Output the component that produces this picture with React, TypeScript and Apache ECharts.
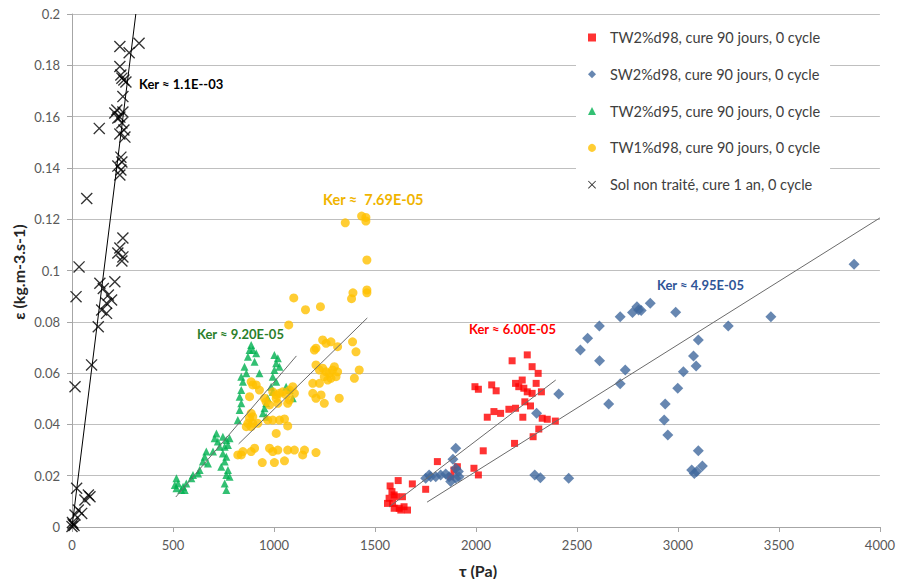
import React, { useEffect, useRef } from "react";
import * as echarts from "echarts";

// ---------- data ----------
const seriesNames = [
  "TW2%d98, cure 90 jours, 0 cycle",
  "SW2%d98, cure 90 jours, 0 cycle",
  "TW2%d95, cure 90 jours, 0 cycle",
  "TW1%d98, cure 90 jours, 0 cycle",
  "Sol non traité, cure 1 an, 0 cycle",
];

const tw2d98: [number, number][] = [
  [2254, 0.0671], [2179, 0.0648], [2278, 0.0625], [2308, 0.0599], [2229, 0.0573], [2196, 0.056],
  [2298, 0.056], [1995, 0.0547], [2012, 0.0537], [2078, 0.0554], [2100, 0.0531], [2212, 0.0547],
  [2237, 0.0541], [2254, 0.0527], [2278, 0.0521], [2324, 0.0527], [2242, 0.0488], [2270, 0.0472],
  [2163, 0.0459], [2196, 0.0463], [2089, 0.045], [2122, 0.0443], [2056, 0.0428], [2232, 0.0428],
  [2328, 0.0424], [2353, 0.042], [2393, 0.0413], [2311, 0.0382], [2283, 0.0352], [2191, 0.0326],
  [2036, 0.0297], [1809, 0.0255], [1990, 0.0229], [2012, 0.0203], [1891, 0.0222], [1875, 0.0196],
  [1908, 0.0235], [1751, 0.0147], [1685, 0.0168], [1615, 0.0181], [1575, 0.016], [1584, 0.0138],
  [1595, 0.0125], [1570, 0.0112], [1603, 0.0118], [1636, 0.0118], [1587, 0.0092], [1562, 0.0092],
  [1595, 0.0073], [1620, 0.0073], [1644, 0.0079], [1661, 0.0066], [1628, 0.0066],
];

const sw2d98: [number, number][] = [
  [2863, 0.0872], [2797, 0.0859], [2805, 0.0846], [2775, 0.0836], [2818, 0.0844], [2714, 0.082],
  [2989, 0.0837], [3460, 0.082], [3249, 0.0784], [2611, 0.0784], [2553, 0.0736], [2517, 0.069],
  [3101, 0.0729], [2612, 0.0648], [3077, 0.0667], [3090, 0.0628], [3027, 0.0605], [2739, 0.0612],
  [2714, 0.0558], [2999, 0.0541], [2657, 0.048], [2937, 0.048], [2932, 0.0417], [2950, 0.0359],
  [3101, 0.0297], [3068, 0.0222], [3093, 0.0216], [3121, 0.0238], [3081, 0.0209], [2459, 0.019],
  [2410, 0.0519], [3872, 0.1024], [2300, 0.0443], [2291, 0.0203], [2319, 0.0192], [1900, 0.0307],
  [1886, 0.0264], [1768, 0.0203], [1751, 0.019], [1776, 0.0196], [1801, 0.0196], [1825, 0.0203],
  [1850, 0.0207], [1867, 0.0196], [1875, 0.0177], [1900, 0.019], [1916, 0.0196], [1913, 0.0216],
  [1900, 0.0229],
];

const tw2d95: [number, number][] = [
  [887, 0.071], [879, 0.069], [895, 0.069], [871, 0.0664], [912, 0.0677], [904, 0.0644],
  [854, 0.0625], [863, 0.0599], [838, 0.0586], [846, 0.0566], [838, 0.0534], [830, 0.0508],
  [838, 0.0482], [830, 0.0456], [821, 0.0417], [928, 0.0599], [1002, 0.0671], [1019, 0.0658],
  [1011, 0.0638], [1027, 0.0625], [1002, 0.0612], [994, 0.0586], [1011, 0.0566], [986, 0.0547],
  [994, 0.0527], [969, 0.0502], [961, 0.0482], [953, 0.0463], [945, 0.0443], [961, 0.043],
  [1093, 0.0502], [1077, 0.0534], [1060, 0.0547], [780, 0.0346], [772, 0.032], [715, 0.0365],
  [706, 0.0346], [722, 0.0333], [747, 0.0352], [764, 0.0339], [756, 0.0313], [747, 0.0287],
  [764, 0.0274], [756, 0.0255], [739, 0.0235], [772, 0.0222], [764, 0.0203], [780, 0.0196],
  [756, 0.017], [764, 0.0144], [665, 0.0294], [657, 0.0274], [648, 0.0255], [673, 0.0248],
  [632, 0.0222], [624, 0.0209], [599, 0.0203], [591, 0.019], [566, 0.017], [550, 0.0157],
  [558, 0.0144], [525, 0.017], [517, 0.019], [509, 0.0164], [517, 0.0151], [541, 0.0144],
  [698, 0.0294], [731, 0.0313],
];

const tw1d98: [number, number][] = [
  [1353, 0.1186], [1434, 0.1212], [1455, 0.1207], [1455, 0.1193], [1460, 0.1041], [1460, 0.0924],
  [1460, 0.0913], [1391, 0.0913], [1384, 0.089], [1098, 0.0893], [1156, 0.0847], [1230, 0.0859],
  [1073, 0.0788], [1208, 0.0697], [1200, 0.069], [1241, 0.0729], [1258, 0.0716], [1282, 0.0722],
  [1315, 0.0703], [1389, 0.0722], [1406, 0.0683], [1208, 0.0632], [1225, 0.0612], [1241, 0.0619],
  [1258, 0.0605], [1274, 0.0599], [1290, 0.0612], [1299, 0.0625], [1307, 0.0586], [1282, 0.058],
  [1266, 0.0573], [1225, 0.056], [1192, 0.056], [1249, 0.0586], [1315, 0.0605], [1398, 0.058],
  [1422, 0.0612], [1192, 0.0521], [1233, 0.0515], [1208, 0.0502], [1249, 0.0482], [1323, 0.0502],
  [887, 0.0566], [912, 0.0554], [928, 0.0534], [895, 0.0554], [879, 0.0508], [994, 0.0527],
  [1011, 0.0515], [1027, 0.0521], [1043, 0.0527], [1060, 0.0515], [1077, 0.0534], [1093, 0.0547],
  [1101, 0.0521], [1077, 0.0495], [1068, 0.0482], [1011, 0.0502], [1019, 0.0482], [961, 0.0488],
  [978, 0.0476], [953, 0.0502], [887, 0.0443], [895, 0.043], [879, 0.0424], [871, 0.0404],
  [895, 0.0404], [920, 0.0404], [863, 0.0391], [887, 0.0391], [969, 0.0417], [994, 0.0417],
  [1027, 0.0417], [1052, 0.0421], [1068, 0.0394], [1011, 0.0365], [821, 0.0281], [846, 0.0294],
  [887, 0.0294], [904, 0.0307], [978, 0.0307], [994, 0.0294], [1019, 0.03], [1068, 0.03],
  [1101, 0.03], [1151, 0.03], [1142, 0.0281], [1208, 0.029], [838, 0.0281], [942, 0.0251],
  [1002, 0.0251], [1052, 0.0258],
];

const solNonTraite: [number, number][] = [
  [237, 0.1873], [332, 0.1886], [283, 0.1849], [237, 0.1795], [242, 0.1762], [257, 0.1743],
  [247, 0.175], [267, 0.1735], [252, 0.1678], [222, 0.1626], [212, 0.1614], [237, 0.1598],
  [252, 0.1618], [227, 0.1595], [247, 0.1575], [257, 0.1548], [237, 0.1532], [262, 0.152],
  [135, 0.1554], [242, 0.1442], [247, 0.1423], [227, 0.1407], [242, 0.1392], [237, 0.1372],
  [73, 0.1281], [252, 0.1127], [237, 0.1088], [227, 0.1068], [252, 0.1053], [247, 0.1037],
  [35, 0.1014], [20, 0.0898], [138, 0.095], [212, 0.0956], [155, 0.093], [180, 0.0904],
  [196, 0.0885], [171, 0.0872], [147, 0.0846], [171, 0.0833], [130, 0.0781], [97, 0.0632],
  [15, 0.0547], [23, 0.0151], [81, 0.0125], [64, 0.0105], [89, 0.0118], [31, 0.0066],
  [48, 0.0053], [15, 0.0047], [0, 0.0002], [5, 0.0012], [10, 0.0006], [2, 0.0018],
];

// trend lines (start, end)
const trendRed: [number, number][] = [[1570, 0.0078], [2395, 0.0573]];
const trendBlue: [number, number][] = [[1758, 0.0097], [4000, 0.1205]];
const trendGreen: [number, number][] = [[514, 0.0117], [1111, 0.0667]];
const trendYellow: [number, number][] = [[825, 0.0324], [1462, 0.0815]];
const trendBlack: [number, number][] = [[0, 0], [316, 0.2]];

const kerLabels = [
  "Ker ≈ 6.00E-05",
  "Ker ≈ 4.95E-05",
  "Ker ≈ 9.20E-05",
  "Ker ≈  7.69E-05",
  "Ker ≈ 1.1E--03",
];

const colors = ["#FF0000", "#41699E", "#00B050", "#FFC000", "#000000"];
const labelColors = ["#FF0000", "#2F5597", "#2B7F2B", "#F0B400", "#000000"];

const crossPath =
  "path://M0,8 L8,0 L100,92 L92,100 Z M92,0 L100,8 L8,100 L0,92 Z";

export default function App() {
  const ref = useRef<HTMLDivElement>(null);
  useEffect(() => {
    if (!ref.current) return;
    const chart = echarts.init(ref.current, undefined, { renderer: "svg" });
    const font = "Lato, 'Open Sans', sans-serif";
    const trend = (data: [number, number][], color: string) => ({
      type: "line",
      data,
      symbol: "none",
      silent: true,
      z: 5,
      lineStyle: { color, width: 1 },
    });
    chart.setOption({
      animation: false,
      textStyle: { fontFamily: font },
      grid: { left: 72, right: 16, top: 14, bottom: 52 },
      xAxis: {
        type: "value",
        min: 0,
        max: 4000,
        interval: 500,
        axisLine: { show: true, lineStyle: { color: "#a6a6a6" } },
        axisTick: { show: true, length: 5, lineStyle: { color: "#a6a6a6" } },
        splitLine: { show: false },
        axisLabel: {
          color: "#595959", fontSize: 13, margin: 11, fontFamily: font,
          formatter: (v: number) => String(v),
        },
      },
      yAxis: {
        type: "value",
        min: 0,
        max: 0.2,
        interval: 0.02,
        axisLine: { show: true, lineStyle: { color: "#a6a6a6" } },
        axisTick: { show: true, length: 5, lineStyle: { color: "#a6a6a6" } },
        splitLine: { show: true, lineStyle: { color: "#bfbfbf" } },
        axisLabel: {
          color: "#595959",
          fontSize: 13,
          margin: 12,
          fontFamily: font,
          formatter: (v: number) => String(parseFloat(v.toFixed(2))),
        },
      },
      legend: {
        data: seriesNames,
        orient: "vertical",
        left: 576,
        top: 20,
        padding: [10, 10, 10, 12],
        backgroundColor: "#ffffff",
        itemWidth: 8,
        itemHeight: 8,
        itemGap: 21.8,
        textStyle: { fontSize: 14.5, color: "#404040", fontFamily: font, padding: [0, 0, 0, 9] },
      },
      series: [
        {
          name: seriesNames[0], type: "scatter", data: tw2d98, symbol: "rect", symbolSize: 7,
          itemStyle: { color: colors[0] }, z: 2,
        },
        {
          name: seriesNames[1], type: "scatter", data: sw2d98, symbol: "diamond", symbolSize: 11,
          itemStyle: { color: colors[1] }, z: 2,
        },
        {
          name: seriesNames[2], type: "scatter", data: tw2d95, symbol: "triangle", symbolSize: 8,
          itemStyle: { color: colors[2] }, z: 2,
        },
        {
          name: seriesNames[3], type: "scatter", data: tw1d98, symbol: "circle", symbolSize: 9,
          itemStyle: { color: colors[3] }, z: 2,
        },
        {
          name: seriesNames[4], type: "scatter", data: solNonTraite, symbol: crossPath, symbolSize: 12,
          itemStyle: { color: colors[4] }, z: 2,
        },
        trend(trendRed, "#6b6b6b"),
        trend(trendBlue, "#6b6b6b"),
        trend(trendGreen, "#6b6b6b"),
        trend(trendYellow, "#6b6b6b"),
        trend(trendBlack, "#000000"),
      ],
      graphic: [
        { type: "text", left: 469, top: 322, style: { text: kerLabels[0], fill: labelColors[0], font: `bold 13px ${font}` } },
        { type: "text", left: 657, top: 278, style: { text: kerLabels[1], fill: labelColors[1], font: `bold 13px ${font}` } },
        { type: "text", left: 197, top: 327, style: { text: kerLabels[2], fill: labelColors[2], font: `bold 13px ${font}` } },
        { type: "text", left: 323, top: 192, style: { text: kerLabels[3], fill: labelColors[3], font: `bold 14.5px ${font}` } },
        { type: "text", left: 139, top: 77, style: { text: kerLabels[4], fill: labelColors[4], font: `bold 13px ${font}` } },
        {
          type: "text", x: 478, y: 570,
          style: { text: "τ (Pa)", fill: "#262626", font: `bold 16px ${font}`, align: "center", verticalAlign: "middle" },
        },
        {
          type: "text", x: 18, y: 272, rotation: Math.PI / 2,
          style: { text: "ε (kg.m-3.s-1)", fill: "#262626", font: `bold 16px ${font}`, align: "center", verticalAlign: "middle" },
        },
      ],
    });
    return () => chart.dispose();
  }, []);
  return (
    <div
      ref={ref}
      style={{ position: "fixed", left: 0, top: 0, width: 898, height: 579, background: "#fff" }}
    />
  );
}
